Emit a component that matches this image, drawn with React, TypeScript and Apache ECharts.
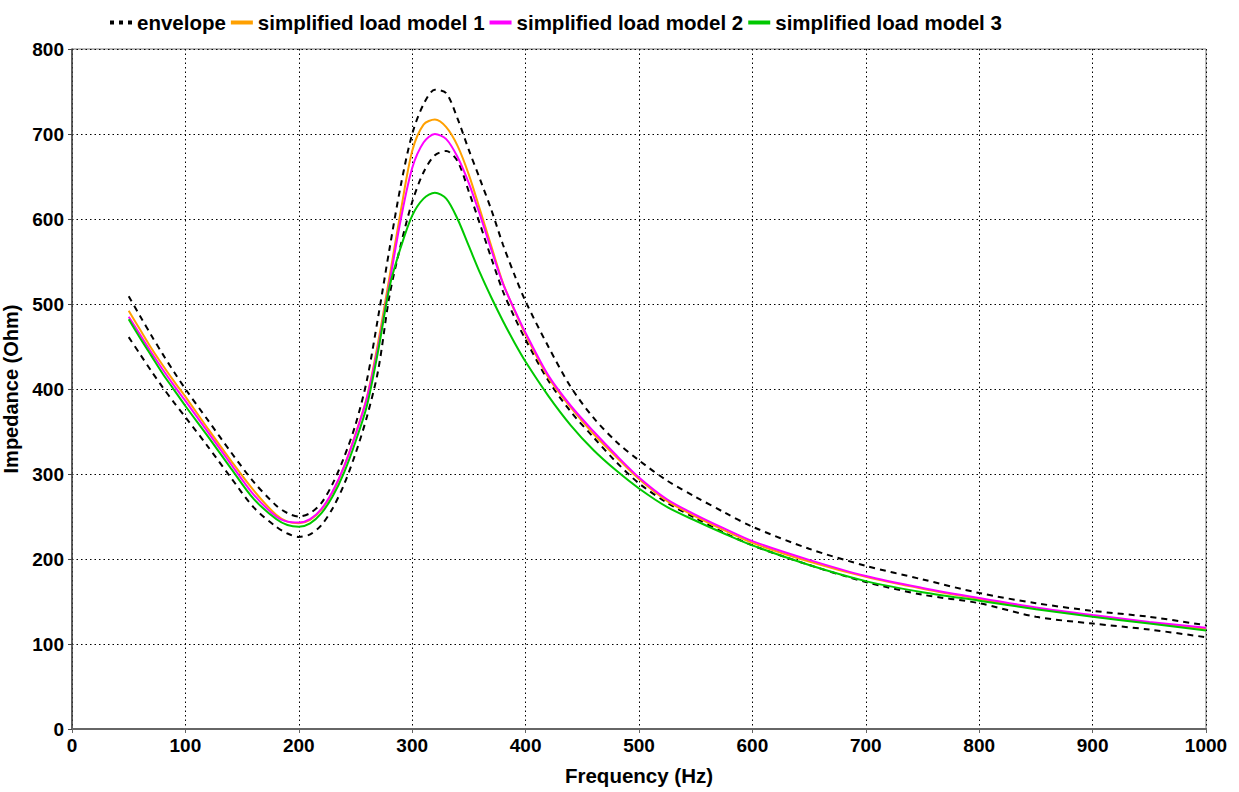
import React, { useEffect, useRef } from "react";
import * as echarts from "echarts";

const FREQ = [50, 60, 70, 80, 90, 100, 120, 140, 160, 180, 190, 200, 210, 220, 230, 240, 250, 260, 270, 280, 290, 300, 310, 320, 330, 340, 350, 360, 370, 380, 390, 400, 420, 440, 460, 480, 500, 525, 550, 575, 600, 650, 700, 750, 800, 850, 900, 950, 1000];

const ENVELOPE_UPPER = [509, 486, 463, 441, 420, 400, 363, 326, 291, 263, 254, 250, 254, 266, 289, 320, 358, 410, 485, 565, 640, 700, 735, 752, 748, 718, 681, 646, 610, 570, 535, 503, 450, 402, 366, 338, 316, 292, 273, 255, 238, 212, 192, 176, 160, 148, 139, 132, 122];

const ENVELOPE_LOWER = [461, 441, 421, 402, 384, 367, 332, 296, 261, 238, 230, 226, 229, 240, 260, 288, 324, 367, 422, 510, 570, 620, 655, 675, 680, 668, 632, 593, 553, 515, 485, 458, 410, 373, 343, 314, 289, 266, 248, 231, 216, 193, 173, 158, 148, 132, 124, 117, 108];

const MODEL_1 = [492, 470, 448, 428, 409, 391, 353, 316, 281, 252, 244, 242, 246, 258, 279, 309, 347, 390, 455, 532, 610, 680, 711, 717, 708, 686, 652, 610, 567, 525, 493, 464, 414, 378, 347, 320, 294, 268, 250, 234, 219, 197, 179, 165, 153, 142, 133, 125, 118];

const MODEL_2 = [485, 464, 443, 423, 404, 386, 349, 312, 276, 250, 244, 243, 247, 259, 280, 309, 346, 389, 450, 525, 600, 660, 690, 700, 694, 673, 642, 604, 563, 524, 494, 466, 416, 380, 350, 322, 296, 270, 252, 236, 221, 199, 180, 166, 154, 143, 134, 126, 119];

const MODEL_3 = [482, 460, 439, 418, 399, 380, 344, 307, 271, 247, 240, 238, 242, 254, 274, 302, 338, 380, 445, 520, 567, 604, 624, 631, 624, 600, 568, 536, 507, 480, 455, 432, 392, 357, 328, 304, 283, 261, 245, 230, 216, 193, 174, 161, 151, 141, 132, 124, 116];

const SERIES_NAMES = ["envelope", "simplified load model 1", "simplified load model 2", "simplified load model 3"];
const X_TICKS = { min: 0, max: 1000, interval: 100 };
const Y_TICKS = { min: 0, max: 800, interval: 100 };

const FONT = "'Liberation Sans', Arial, sans-serif";

function pairs(values: number[]) {
  return FREQ.map((f, i) => [f, values[i]]);
}

export default function App() {
  const ref = useRef<HTMLDivElement>(null);
  useEffect(() => {
    if (!ref.current) return;
    const chart = echarts.init(ref.current, null, { renderer: "svg" });
    const envStyle = { color: "#000", width: 2, type: [6, 5] as number[] };
    const solid = (c: string) => ({
      type: "line",
      symbol: "none",
      smooth: 0.3,
      itemStyle: { color: c },
      lineStyle: { color: c, width: 2 },
    });
    chart.setOption({
      animation: false,
      backgroundColor: "#fff",
      textStyle: { fontFamily: FONT },
      grid: {
        left: 72,
        right: 33,
        top: 49,
        bottom: 63,
        containLabel: false,
        outerBoundsMode: "none",
        show: true,
        borderColor: "#777",
        borderWidth: 1,
      },
      legend: {
        left: 103,
        top: 7,
        itemWidth: 22,
        itemHeight: 4,
        itemGap: 3,
        textStyle: { fontFamily: FONT, fontWeight: "bold", fontSize: 20.5, color: "#000" },
        data: [
          { name: SERIES_NAMES[0], itemStyle: { color: "#000" }, lineStyle: { color: "#000", width: 4, type: [4, 5] } },
          { name: SERIES_NAMES[1], lineStyle: { width: 4, type: "solid" } },
          { name: SERIES_NAMES[2], lineStyle: { width: 4, type: "solid" } },
          { name: SERIES_NAMES[3], lineStyle: { width: 4, type: "solid" } },
        ],
      },
      xAxis: {
        type: "value",
        min: X_TICKS.min,
        max: X_TICKS.max,
        interval: X_TICKS.interval,
        name: "Frequency (Hz)",
        nameLocation: "middle",
        nameGap: 36,
        nameTextStyle: { fontFamily: FONT, fontWeight: "bold", fontSize: 20.5, color: "#000" },
        axisLine: { show: true, lineStyle: { color: "#666", width: 2 } },
        axisTick: { show: true, length: 4, lineStyle: { color: "#666" } },
        axisLabel: {
          fontFamily: FONT,
          fontWeight: "bold",
          fontSize: 19,
          color: "#000",
          margin: 7,
          formatter: (v: number) => String(v),
        },
        splitLine: { show: true, lineStyle: { color: "#000", width: 1, type: [1.5, 3] } },
      },
      yAxis: {
        type: "value",
        min: Y_TICKS.min,
        max: Y_TICKS.max,
        interval: Y_TICKS.interval,
        name: "Impedance (Ohm)",
        nameLocation: "middle",
        nameGap: 41,
        nameRotate: 90,
        nameTextStyle: { fontFamily: FONT, fontWeight: "bold", fontSize: 20, color: "#000" },
        axisLine: { show: true, lineStyle: { color: "#444", width: 1.5 } },
        axisTick: { show: true, length: 4, lineStyle: { color: "#444" } },
        axisLabel: {
          fontFamily: FONT,
          fontWeight: "bold",
          fontSize: 19,
          color: "#000",
          margin: 8,
          formatter: (v: number) => String(v),
        },
        splitLine: { show: true, lineStyle: { color: "#000", width: 1, type: [1.5, 3] } },
      },
      series: [
        {
          name: SERIES_NAMES[0],
          type: "line",
          symbol: "none",
          smooth: 0.3,
          data: pairs(ENVELOPE_UPPER),
          itemStyle: { color: "#000" },
          lineStyle: envStyle,
        },
        {
          name: SERIES_NAMES[0],
          type: "line",
          symbol: "none",
          smooth: 0.3,
          data: pairs(ENVELOPE_LOWER),
          itemStyle: { color: "#000" },
          lineStyle: envStyle,
        },
        { ...solid("#FFA000"), name: SERIES_NAMES[1], data: pairs(MODEL_1) },
        { ...solid("#FF00FF"), name: SERIES_NAMES[2], data: pairs(MODEL_2) },
        { ...solid("#00C800"), name: SERIES_NAMES[3], data: pairs(MODEL_3) },
      ],
    });
    return () => chart.dispose();
  }, []);
  return (
    <div
      ref={ref}
      style={{ position: "fixed", left: 0, top: 0, width: 1239, height: 792, background: "#fff" }}
    />
  );
}
